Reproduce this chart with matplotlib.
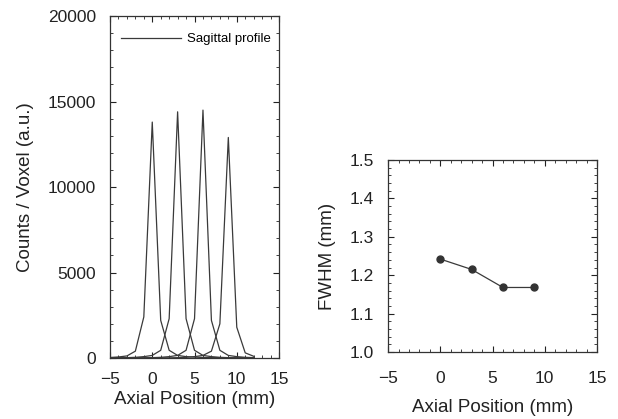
import matplotlib
matplotlib.use("Agg")
import matplotlib.pyplot as plt
from matplotlib.ticker import MultipleLocator

plt.rcParams['font.family'] = ['Liberation Sans', 'DejaVu Sans']

# Data
axial_x = list(range(-5, 13))
profile_0 = [30, 60, 120, 400, 2400, 13800, 2200, 450, 150, 80, 50, 30, 20, 20, 10, 10, 10, 10]
profile_3 = [10, 10, 20, 40, 80, 150, 450, 2300, 14400, 2300, 450, 150, 80, 40, 20, 10, 10, 10]
profile_6 = [10, 10, 10, 10, 10, 20, 40, 80, 150, 450, 2300, 14500, 2200, 450, 150, 80, 40, 20]
profile_9 = [10, 10, 10, 10, 10, 10, 10, 10, 20, 40, 80, 150, 400, 2000, 12900, 1800, 300, 100]
profiles = [profile_0, profile_3, profile_6, profile_9]

fwhm_pos = [0, 3, 6, 9]
fwhm_val = [1.242, 1.215, 1.168, 1.168]

fig = plt.figure(figsize=(6.18, 4.19), dpi=100)
ax1 = fig.add_axes([0.178, 0.1456, 0.2735, 0.816])
ax2 = fig.add_axes([0.628, 0.16, 0.338, 0.458])

lc = '#3a3a3a'
for i, p in enumerate(profiles):
    ax1.plot(axial_x, p, color=lc, lw=0.9, label='Sagittal profile' if i == 0 else None)
ax1.set_xlim(-5, 15)
ax1.set_ylim(0, 20000)
ax1.xaxis.set_major_locator(MultipleLocator(5))
ax1.xaxis.set_minor_locator(MultipleLocator(1))
ax1.yaxis.set_major_locator(MultipleLocator(5000))
ax1.yaxis.set_minor_locator(MultipleLocator(1000))
ax1.set_xlabel('Axial Position (mm)', fontsize=13.5, color='#222222', labelpad=3)
ax1.set_ylabel('Counts / Voxel (a.u.)', fontsize=13.5, color='#222222', labelpad=10)
leg = ax1.legend(loc='upper right', frameon=False, fontsize=9.5, handlelength=4.6,
                 handletextpad=0.4, borderaxespad=0.5, bbox_to_anchor=(1.02, 0.985))

ax2.plot(fwhm_pos, fwhm_val, color=lc, lw=0.9, marker='o', markersize=5,
         markerfacecolor='#333333', markeredgecolor='#333333')
ax2.set_xlim(-5, 15)
ax2.set_ylim(1.0, 1.5)
ax2.xaxis.set_major_locator(MultipleLocator(5))
ax2.xaxis.set_minor_locator(MultipleLocator(1))
ax2.set_yticks([1.0, 1.1, 1.2, 1.3, 1.4, 1.5])
ax2.set_yticklabels(['1.0', '1.1', '1.2', '1.3', '1.4', '1.5'])
ax2.yaxis.set_minor_locator(MultipleLocator(0.02))
ax2.set_xlabel('Axial Position (mm)', fontsize=13.5, color='#222222', labelpad=9)
ax2.set_ylabel('FWHM (mm)', fontsize=13.5, color='#222222', labelpad=10)

for ax in (ax1, ax2):
    ax.tick_params(which='both', direction='in', top=True, right=True,
                   labelsize=12.5, colors='#222222')
    ax.tick_params(which='major', length=4, width=0.8)
    ax.tick_params(which='minor', length=2, width=0.6)
    ax.tick_params(axis='y', which='major', pad=10)
    for s in ax.spines.values():
        s.set_color('#333333')
        s.set_linewidth(0.9)
ax1.tick_params(axis='x', which='major', pad=10)
ax2.tick_params(axis='x', which='major', pad=14)

fig.savefig('out.png', dpi=100)
